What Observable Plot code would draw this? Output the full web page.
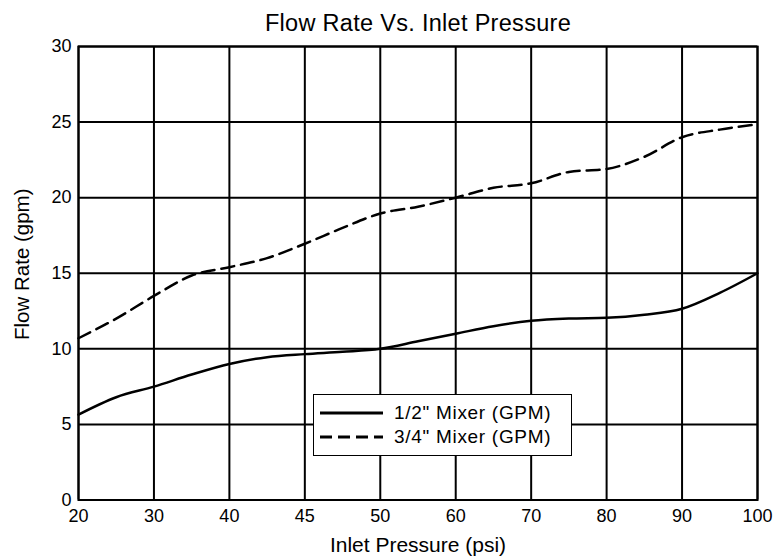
<!DOCTYPE html>
<html>
<head>
<meta charset="utf-8">
<script src="https://cdn.jsdelivr.net/npm/d3@7"></script>
<script src="https://cdn.jsdelivr.net/npm/@observablehq/plot@0.6"></script>
<style>
  body { margin: 0; background: #fff; font-family: "Liberation Sans", Arial, sans-serif; }
  #wrap { position: relative; width: 774px; height: 557px; }
  #title { position: absolute; z-index: 2; left: 78px; width: 680px; top: 12px; line-height: 23px; text-align: center; font-size: 23.5px; letter-spacing: 0.3px; color: #000; }
  #chart { position: absolute; z-index: 1; left: 0; top: 26px; }
  #legend { position: absolute; z-index: 3; left: 313px; top: 394px; width: 259px; height: 62px; border: 1.5px solid #000; background: #fff; box-sizing: border-box; font-size: 19px; }
  .row { position: absolute; left: 6px; height: 20px; display: flex; align-items: center; white-space: nowrap; }
  .row span { margin-left: 11px; letter-spacing: 0.7px; }
</style>
</head>
<body>
<div id="wrap">
  <div id="title">Flow Rate Vs. Inlet Pressure</div>
  <div id="chart"></div>
  <div id="legend"></div>
</div>
<script>
// Tick labels of the (evenly spaced) pressure axis
const pressures = [20, 30, 40, 45, 50, 60, 70, 80, 90, 100];
// Positions where the curves were read, in tick-slot units (0 = 20 psi, 9 = 100 psi)
const readAt = [0, 0.5, 1, 1.5, 2, 2.5, 3, 3.5, 4, 4.5, 5, 5.5, 6, 6.5, 7, 7.5, 8, 8.5, 9];
// Flow rates (gpm)
const halfInch = [5.65, 6.8, 7.5, 8.3, 9.0, 9.45, 9.65, 9.8, 10.0, 10.5, 11.0, 11.5, 11.85, 12.0, 12.05, 12.25, 12.65, 13.7, 15.0];
const threeQuarterInch = [10.7, 12.0, 13.5, 14.85, 15.4, 16.0, 16.95, 18.0, 18.95, 19.4, 20.0, 20.65, 20.95, 21.7, 21.9, 22.7, 24.0, 24.5, 24.85];
const seriesNames = ['1/2" Mixer (GPM)', '3/4" Mixer (GPM)'];
const yTicks = [0, 5, 10, 15, 20, 25, 30];

const half = readAt.map((x, k) => ({ x, v: halfInch[k] }));
const threeQ = readAt.map((x, k) => ({ x, v: threeQuarterInch[k] }));

const plot = Plot.plot({
  width: 774,
  height: 531,
  marginLeft: 78,
  marginRight: 17,
  marginTop: 20,
  marginBottom: 57.5,
  style: { fontFamily: '"Liberation Sans", Arial, sans-serif', fontSize: "18px", color: "#000", background: "transparent" },
  x: {
    type: "linear",
    domain: [0, pressures.length - 1],
    label: null
  },
  y: {
    domain: [0, 30],
    label: null
  },
  marks: [
    Plot.gridX(d3.range(pressures.length), { stroke: "#000", strokeOpacity: 1, strokeWidth: 2 }),
    Plot.gridY(yTicks, { stroke: "#000", strokeOpacity: 1, strokeWidth: 2 }),
    Plot.frame({ stroke: "#000", strokeWidth: 2 }),
    Plot.axisX({ ticks: d3.range(pressures.length), tickFormat: i => pressures[i], tickSize: 0, tickPadding: 9,
      label: "Inlet Pressure (psi)", labelAnchor: "center", labelArrow: "none", labelOffset: 52, fontSize: 18 }),
    Plot.axisY({ ticks: yTicks, tickSize: 0, tickPadding: 7,
      label: "Flow Rate (gpm)", labelAnchor: "center", labelArrow: "none", labelOffset: 64, fontSize: 18 }),
    Plot.line(half, { x: "x", y: "v", stroke: "#000", strokeWidth: 2.5, curve: "monotone-x" }),
    Plot.line(threeQ, { x: "x", y: "v", stroke: "#000", strokeWidth: 2.5, strokeDasharray: "13,7", curve: "monotone-x" })
  ]
});
// enlarge only the axis titles
plot.querySelectorAll("[aria-label='x-axis label'] text").forEach(t => t.setAttribute("font-size", "21px"));
plot.querySelectorAll("[aria-label='y-axis label'] text").forEach(t => { t.setAttribute("font-size", "20.5px"); t.setAttribute("dx", "9"); });
document.getElementById("chart").appendChild(plot);

// Legend
const legend = document.getElementById("legend");
seriesNames.forEach((name, k) => {
  const row = document.createElement("div");
  row.className = "row";
  row.style.top = (8 + k * 24) + "px";
  row.innerHTML = `<svg width="63" height="6"><line x1="0" y1="3" x2="63" y2="3" stroke="#000" stroke-width="3" ${k === 1 ? 'stroke-dasharray="12,6"' : ''}/></svg><span>${name}</span>`;
  legend.appendChild(row);
});
</script>
</body>
</html>
